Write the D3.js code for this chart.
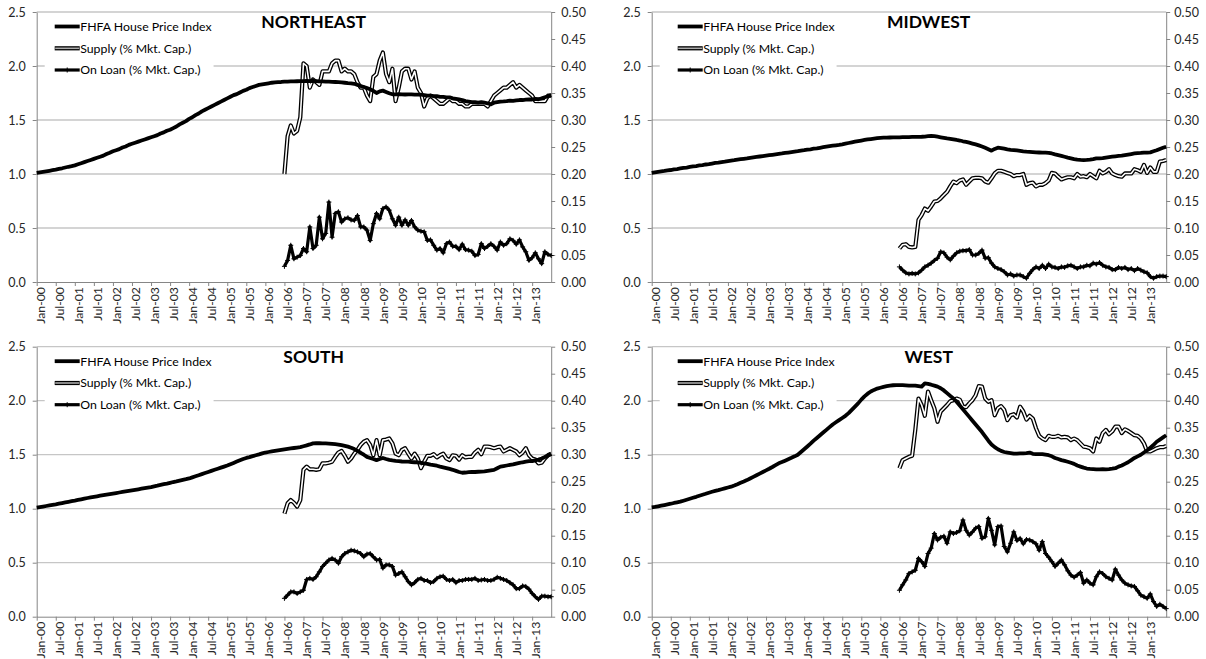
<!DOCTYPE html>
<html>
<head>
<meta charset="utf-8">
<script src="https://cdn.jsdelivr.net/npm/d3@7"></script>
<style>
  body { margin: 0; background: #fff; }
  svg text { font-family: Lato, "Open Sans", sans-serif; }
</style>
</head>
<body>
<svg id="chart" width="1206" height="659"></svg>
<script>
// monthly categories Jan-00 .. Jul-13, labelled every 6 months
const tickLabels = ["Jan-00","Jul-00","Jan-01","Jul-01","Jan-02","Jul-02","Jan-03","Jul-03","Jan-04","Jul-04",
  "Jan-05","Jul-05","Jan-06","Jul-06","Jan-07","Jul-07","Jan-08","Jul-08","Jan-09","Jul-09",
  "Jan-10","Jul-10","Jan-11","Jul-11","Jan-12","Jul-12","Jan-13"];
const monthCount = 163;   // Jan-00 .. Jul-13
const seriesStart = 78;   // supply / on-loan series start at Jul-06

const leftTicks = [0, 0.5, 1.0, 1.5, 2.0, 2.5];
const rightTicks = [0, 0.05, 0.10, 0.15, 0.20, 0.25, 0.30, 0.35, 0.40, 0.45, 0.50];

const legendNames = ["FHFA House Price Index", "Supply (% Mkt. Cap.)", "On Loan (% Mkt. Cap.)"];

// ---- NORTHEAST ----
const neHpi = [
  1.01,1.015,1.02,1.025,1.03,1.035,1.04,1.047,1.053,1.06,1.067,1.073,
  1.08,1.09,1.10,1.11,1.12,1.13,1.14,1.15,1.16,1.17,1.185,1.197,
  1.21,1.22,1.23,1.245,1.255,1.27,1.28,1.29,1.30,1.31,1.32,1.33,
  1.34,1.35,1.36,1.375,1.385,1.40,1.41,1.425,1.44,1.46,1.475,1.49,
  1.51,1.525,1.545,1.56,1.58,1.595,1.61,1.625,1.64,1.655,1.67,1.685,
  1.70,1.715,1.73,1.74,1.755,1.77,1.78,1.795,1.805,1.815,1.825,1.83,
  1.835,1.84,1.845,1.848,1.85,1.852,1.855,1.856,1.857,1.858,1.859,1.86,
  1.86,1.862,1.86,1.862,1.86,1.858,1.858,1.856,1.855,1.853,1.852,1.85,
  1.848,1.845,1.842,1.84,1.835,1.825,1.815,1.805,1.795,1.785,1.77,1.75,
  1.765,1.772,1.76,1.748,1.738,1.738,1.74,1.738,1.736,1.738,1.737,1.735,
  1.735,1.735,1.73,1.725,1.725,1.72,1.72,1.715,1.715,1.71,1.71,1.70,
  1.695,1.69,1.685,1.675,1.67,1.665,1.665,1.66,1.665,1.66,1.655,1.645,
  1.66,1.665,1.67,1.672,1.675,1.68,1.678,1.682,1.685,1.685,1.688,1.69,
  1.69,1.695,1.692,1.70,1.71,1.72,1.73];
const neSupply = [
  0.20,0.27,0.29,0.275,0.28,0.305,0.405,0.40,0.36,0.375,
  0.37,0.365,0.39,0.39,0.39,0.405,0.41,0.41,0.39,0.395,
  0.39,0.39,0.385,0.37,0.36,0.36,0.345,0.335,0.38,0.385,
  0.41,0.425,0.385,0.37,0.395,0.335,0.36,0.39,0.395,0.395,
  0.375,0.39,0.36,0.35,0.325,0.34,0.345,0.34,0.335,0.33,
  0.33,0.335,0.34,0.335,0.335,0.33,0.33,0.325,0.325,0.33,
  0.33,0.33,0.33,0.33,0.325,0.335,0.345,0.35,0.355,0.36,
  0.36,0.365,0.37,0.36,0.365,0.36,0.355,0.35,0.345,0.335,
  0.335,0.335,0.335,0.345,0.345];
const neLoan = [
  0.029,0.040,0.068,0.043,0.046,0.049,0.062,0.056,0.102,0.062,
  0.068,0.120,0.080,0.090,0.148,0.083,0.127,0.130,0.111,0.117,
  0.119,0.115,0.114,0.123,0.102,0.102,0.096,0.077,0.108,0.127,
  0.117,0.136,0.139,0.133,0.117,0.105,0.120,0.105,0.115,0.105,
  0.114,0.102,0.096,0.094,0.093,0.077,0.078,0.068,0.059,0.062,
  0.054,0.071,0.074,0.066,0.066,0.060,0.070,0.060,0.059,0.057,
  0.049,0.051,0.071,0.062,0.066,0.071,0.066,0.059,0.074,0.068,
  0.071,0.080,0.077,0.070,0.078,0.065,0.056,0.040,0.045,0.054,
  0.043,0.034,0.056,0.051,0.049];

// ---- MIDWEST ----
const mwHpi = [
  1.01,1.015,1.02,1.024,1.028,1.033,1.037,1.042,1.046,1.051,1.056,1.06,
  1.065,1.07,1.074,1.079,1.083,1.088,1.092,1.097,1.102,1.106,1.111,1.115,
  1.12,1.124,1.128,1.133,1.137,1.141,1.145,1.15,1.154,1.158,1.162,1.166,
  1.17,1.174,1.178,1.182,1.186,1.19,1.195,1.199,1.203,1.207,1.211,1.216,
  1.22,1.225,1.229,1.234,1.238,1.243,1.248,1.253,1.258,1.262,1.266,1.27,
  1.275,1.281,1.287,1.293,1.299,1.305,1.31,1.315,1.32,1.324,1.328,1.332,
  1.335,1.336,1.337,1.338,1.339,1.34,1.34,1.341,1.341,1.342,1.343,1.343,
  1.344,1.345,1.347,1.35,1.352,1.35,1.345,1.34,1.335,1.33,1.326,1.321,
  1.315,1.31,1.303,1.297,1.29,1.282,1.274,1.265,1.255,1.243,1.23,1.216,
  1.232,1.244,1.24,1.234,1.228,1.224,1.222,1.218,1.214,1.21,1.207,1.205,
  1.203,1.2,1.199,1.198,1.197,1.196,1.19,1.182,1.175,1.168,1.16,1.152,
  1.145,1.138,1.133,1.13,1.128,1.13,1.133,1.138,1.145,1.145,1.147,1.152,
  1.156,1.16,1.164,1.167,1.17,1.175,1.18,1.185,1.19,1.193,1.195,1.198,
  1.198,1.2,1.21,1.22,1.232,1.243,1.253];
const mwSupply = [
  0.062,0.069,0.070,0.065,0.064,0.065,0.115,0.124,0.136,0.132,
  0.140,0.149,0.150,0.155,0.161,0.167,0.177,0.186,0.183,0.188,
  0.190,0.180,0.186,0.192,0.193,0.193,0.192,0.186,0.184,0.192,
  0.201,0.206,0.206,0.204,0.202,0.200,0.196,0.198,0.198,0.200,
  0.180,0.183,0.184,0.177,0.180,0.180,0.183,0.188,0.202,0.201,
  0.195,0.190,0.192,0.194,0.194,0.192,0.200,0.195,0.196,0.194,
  0.200,0.196,0.192,0.206,0.201,0.204,0.209,0.201,0.198,0.196,
  0.195,0.201,0.201,0.201,0.209,0.207,0.204,0.217,0.202,0.212,
  0.204,0.204,0.223,0.224,0.226];
const mwLoan = [
  0.028,0.022,0.017,0.015,0.016,0.015,0.017,0.022,0.028,0.031,
  0.035,0.040,0.044,0.056,0.054,0.046,0.041,0.048,0.054,0.057,
  0.058,0.058,0.060,0.050,0.050,0.053,0.059,0.044,0.045,0.035,
  0.028,0.025,0.023,0.019,0.013,0.015,0.011,0.013,0.013,0.010,
  0.007,0.016,0.023,0.028,0.025,0.031,0.025,0.033,0.028,0.027,
  0.025,0.028,0.027,0.030,0.031,0.028,0.025,0.028,0.028,0.031,
  0.030,0.035,0.033,0.036,0.031,0.028,0.027,0.023,0.023,0.027,
  0.025,0.027,0.023,0.025,0.021,0.025,0.022,0.019,0.017,0.010,
  0.007,0.010,0.011,0.011,0.010];

// ---- SOUTH ----
const soHpi = [
  1.01,1.015,1.02,1.025,1.03,1.035,1.04,1.046,1.052,1.058,1.064,1.07,
  1.075,1.081,1.087,1.093,1.099,1.105,1.11,1.115,1.12,1.125,1.13,1.135,
  1.14,1.145,1.15,1.155,1.16,1.165,1.17,1.175,1.18,1.185,1.19,1.195,
  1.20,1.207,1.213,1.22,1.227,1.233,1.24,1.247,1.253,1.26,1.267,1.273,
  1.28,1.29,1.30,1.31,1.32,1.33,1.34,1.35,1.36,1.37,1.38,1.39,
  1.40,1.412,1.424,1.436,1.448,1.46,1.47,1.478,1.487,1.495,1.503,1.512,
  1.52,1.525,1.53,1.535,1.54,1.545,1.55,1.554,1.558,1.562,1.566,1.57,
  1.578,1.586,1.595,1.605,1.607,1.606,1.605,1.604,1.603,1.60,1.597,1.594,
  1.588,1.582,1.575,1.565,1.552,1.535,1.518,1.50,1.48,1.47,1.46,1.45,
  1.46,1.47,1.46,1.452,1.447,1.443,1.44,1.437,1.435,1.435,1.432,1.43,
  1.428,1.425,1.42,1.415,1.408,1.404,1.398,1.39,1.383,1.376,1.368,1.36,
  1.35,1.34,1.333,1.335,1.338,1.34,1.34,1.342,1.343,1.345,1.35,1.355,
  1.36,1.375,1.39,1.395,1.40,1.405,1.41,1.418,1.424,1.43,1.435,1.44,
  1.44,1.448,1.455,1.465,1.478,1.492,1.506];
const soSupply = [
  0.191,0.210,0.216,0.211,0.204,0.216,0.272,0.278,0.273,0.273,
  0.272,0.273,0.284,0.284,0.285,0.287,0.296,0.304,0.307,0.298,
  0.287,0.293,0.302,0.309,0.318,0.324,0.327,0.318,0.299,0.327,
  0.299,0.327,0.328,0.330,0.321,0.302,0.299,0.309,0.312,0.302,
  0.293,0.302,0.293,0.275,0.287,0.298,0.298,0.301,0.295,0.299,
  0.302,0.293,0.290,0.299,0.298,0.291,0.299,0.295,0.296,0.296,
  0.304,0.309,0.301,0.315,0.315,0.314,0.312,0.314,0.315,0.306,
  0.309,0.312,0.309,0.306,0.299,0.304,0.312,0.299,0.293,0.291,
  0.284,0.285,0.293,0.299,0.302];
const soLoan = [
  0.034,0.040,0.046,0.046,0.043,0.046,0.049,0.069,0.071,0.069,
  0.074,0.083,0.093,0.099,0.105,0.108,0.105,0.099,0.111,0.117,
  0.120,0.123,0.122,0.120,0.117,0.111,0.116,0.117,0.111,0.105,
  0.106,0.090,0.096,0.096,0.093,0.077,0.080,0.083,0.074,0.065,
  0.059,0.063,0.069,0.071,0.067,0.067,0.063,0.065,0.071,0.074,
  0.075,0.069,0.067,0.069,0.063,0.067,0.067,0.069,0.069,0.069,
  0.071,0.067,0.068,0.069,0.067,0.067,0.069,0.073,0.071,0.069,
  0.067,0.063,0.059,0.052,0.052,0.057,0.056,0.051,0.043,0.037,
  0.032,0.038,0.038,0.037,0.037];

// ---- WEST ----
const weHpi = [
  1.012,1.016,1.022,1.028,1.034,1.04,1.046,1.053,1.059,1.065,1.074,1.083,
  1.092,1.101,1.11,1.12,1.129,1.138,1.148,1.157,1.165,1.172,1.18,1.188,
  1.196,1.204,1.215,1.227,1.24,1.252,1.265,1.28,1.295,1.31,1.325,1.34,
  1.355,1.37,1.386,1.403,1.42,1.432,1.445,1.458,1.471,1.485,1.50,1.525,
  1.55,1.576,1.602,1.63,1.655,1.68,1.705,1.73,1.755,1.78,1.80,1.82,
  1.84,1.86,1.885,1.915,1.945,1.975,2.01,2.04,2.065,2.085,2.10,2.112,
  2.12,2.128,2.135,2.14,2.143,2.145,2.145,2.144,2.142,2.14,2.14,2.14,
  2.135,2.13,2.16,2.155,2.148,2.14,2.13,2.115,2.095,2.07,2.045,2.02,
  1.99,1.955,1.92,1.885,1.85,1.815,1.78,1.745,1.71,1.67,1.63,1.595,
  1.57,1.55,1.535,1.525,1.52,1.515,1.51,1.51,1.512,1.513,1.515,1.52,
  1.508,1.505,1.505,1.505,1.50,1.495,1.485,1.47,1.46,1.45,1.443,1.435,
  1.425,1.415,1.40,1.39,1.38,1.372,1.368,1.366,1.364,1.365,1.366,1.364,
  1.366,1.37,1.375,1.39,1.40,1.415,1.43,1.45,1.47,1.485,1.50,1.52,
  1.54,1.565,1.59,1.62,1.64,1.66,1.68];
const weSupply = [
  0.275,0.290,0.293,0.296,0.298,0.346,0.404,0.392,0.372,0.417,
  0.401,0.386,0.361,0.380,0.386,0.392,0.399,0.401,0.404,0.402,
  0.389,0.388,0.395,0.401,0.410,0.427,0.426,0.404,0.398,0.401,
  0.373,0.386,0.390,0.383,0.364,0.373,0.375,0.369,0.389,0.380,
  0.365,0.372,0.367,0.349,0.335,0.330,0.327,0.335,0.333,0.333,
  0.335,0.332,0.333,0.332,0.327,0.330,0.327,0.321,0.315,0.314,
  0.312,0.306,0.330,0.324,0.340,0.346,0.338,0.343,0.352,0.352,
  0.340,0.347,0.344,0.340,0.336,0.335,0.330,0.321,0.306,0.306,
  0.309,0.312,0.314,0.314,0.316];
const weLoan = [
  0.049,0.059,0.068,0.080,0.083,0.086,0.108,0.102,0.093,0.117,
  0.127,0.154,0.142,0.147,0.149,0.136,0.157,0.154,0.156,0.159,
  0.179,0.160,0.151,0.157,0.164,0.167,0.145,0.148,0.182,0.160,
  0.133,0.167,0.168,0.130,0.120,0.136,0.157,0.141,0.145,0.135,
  0.143,0.142,0.139,0.135,0.123,0.139,0.117,0.110,0.102,0.093,
  0.099,0.105,0.096,0.085,0.077,0.073,0.077,0.082,0.062,0.068,
  0.062,0.059,0.074,0.083,0.080,0.074,0.071,0.068,0.088,0.077,
  0.068,0.062,0.059,0.057,0.056,0.048,0.040,0.037,0.034,0.042,
  0.028,0.019,0.023,0.019,0.015];

// panel layout
const plotW = 514.5, plotH = 270;
const panels = [
  { title: "NORTHEAST", hpi: neHpi, supply: neSupply, loan: neLoan, left: 36.7,  top: 12,    legendX: 18, rightPad: 6 },
  { title: "MIDWEST",   hpi: mwHpi, supply: mwSupply, loan: mwLoan, left: 651.7, top: 12,    legendX: 26, rightPad: 4 },
  { title: "SOUTH",     hpi: soHpi, supply: soSupply, loan: soLoan, left: 36.7,  top: 346.7, legendX: 18, rightPad: 6 },
  { title: "WEST",      hpi: weHpi, supply: weSupply, loan: weLoan, left: 651.7, top: 346.7, legendX: 26, rightPad: 4 }
];

const svg = d3.select("#chart");
const axisColor = "#868686";
const gridColor = "#c6c6c6";

function styleAxis(g, size) {
  g.select(".domain").attr("stroke", axisColor).attr("stroke-width", 1);
  g.selectAll(".tick line").attr("stroke", axisColor);
  g.selectAll(".tick text").attr("fill", "#262626").style("font-size", size);
}

function drawPanel(p) {
  const g = svg.append("g");
  const bottom = p.top + plotH, right = p.left + plotW;

  const x = d3.scaleLinear().domain([0, monthCount - 1]).range([p.left, right]);
  const yL = d3.scaleLinear().domain([0, 2.5]).range([bottom, p.top]);
  const yR = d3.scaleLinear().domain([0, 0.5]).range([bottom, p.top]);

  // horizontal gridlines
  g.append("g").selectAll("line")
    .data(leftTicks.filter(d => d > 0))
    .join("line")
    .attr("x1", p.left).attr("x2", right)
    .attr("y1", d => yL(d)).attr("y2", d => yL(d))
    .attr("stroke", gridColor).attr("stroke-width", 1.3);

  // axes
  const ax = g.append("g").attr("transform", `translate(0,${bottom})`)
    .call(d3.axisBottom(x)
      .tickValues(tickLabels.map((_, k) => k * 6))
      .tickFormat(d => tickLabels[d / 6])
      .tickSize(4).tickSizeOuter(0));
  styleAxis(ax, "12.3px");
  ax.selectAll(".tick text")
    .attr("transform", "rotate(-90)")
    .attr("x", -5).attr("y", 0).attr("dy", "0.6em")
    .style("text-anchor", "end");

  const ay = g.append("g").attr("transform", `translate(${p.left},0)`)
    .call(d3.axisLeft(yL).tickValues(leftTicks).tickFormat(d3.format(".1f")).tickSize(4).tickSizeOuter(0).tickPadding(7));
  styleAxis(ay, "12.5px");

  const ar = g.append("g").attr("transform", `translate(${right},0)`)
    .call(d3.axisRight(yR).tickValues(rightTicks).tickFormat(d3.format(".2f")).tickSize(4).tickSizeOuter(0).tickPadding(p.rightPad));
  styleAxis(ar, "12.5px");

  // series
  const hpiLine = d3.line().x((d, k) => x(k)).y(d => yL(d));
  const rLine = d3.line().x((d, k) => x(k + seriesStart)).y(d => yR(d));

  g.append("path").datum(p.supply).attr("d", rLine)
    .attr("fill", "none").attr("stroke", "#000").attr("stroke-width", 4.2).attr("stroke-linejoin", "round");
  g.append("path").datum(p.supply).attr("d", rLine)
    .attr("fill", "none").attr("stroke", "#fff").attr("stroke-width", 1.6).attr("stroke-linejoin", "round");

  g.append("path").datum(p.hpi).attr("d", hpiLine)
    .attr("fill", "none").attr("stroke", "#000").attr("stroke-width", 3.8).attr("stroke-linejoin", "round");

  g.append("path").datum(p.loan).attr("d", rLine)
    .attr("fill", "none").attr("stroke", "#000").attr("stroke-width", 3.2).attr("stroke-linejoin", "round");
  g.append("g").selectAll("path")
    .data(p.loan)
    .join("path")
    .attr("transform", (d, k) => `translate(${x(k + seriesStart)},${yR(d)})`)
    .attr("d", "M-2.5,0H2.5M0,-2.5V2.5")
    .attr("stroke", "#000").attr("stroke-width", 1);

  // title
  g.append("text")
    .attr("x", p.left + 277).attr("y", p.top + 16)
    .attr("text-anchor", "middle")
    .style("font-size", "17.5px").style("font-weight", "bold")
    .attr("fill", "#000")
    .text(p.title);

  // legend (white box behind, series drawn underneath)
  const lg = g.append("g");
  const bg = lg.append("rect").attr("fill", "#fff");
  const sx = p.left + p.legendX, tx = sx + 25.5;
  const rowY = [p.top + 14.5, p.top + 36.3, p.top + 58];
  const texts = lg.selectAll("text").data(legendNames).join("text")
    .attr("x", tx).attr("y", (d, k) => rowY[k]).attr("dy", "0.35em")
    .style("font-size", "12.3px").attr("fill", "#000")
    .text(d => d);
  const maxW = d3.max(texts.nodes(), n => n.getComputedTextLength());
  bg.attr("x", p.left + 8).attr("y", p.top + 2)
    .attr("width", tx + maxW + 2 - (p.left + 8)).attr("height", 66);

  lg.append("line").attr("x1", sx).attr("x2", sx + 25).attr("y1", rowY[0]).attr("y2", rowY[0])
    .attr("stroke", "#000").attr("stroke-width", 3.8);
  lg.append("line").attr("x1", sx).attr("x2", sx + 25).attr("y1", rowY[1]).attr("y2", rowY[1])
    .attr("stroke", "#000").attr("stroke-width", 4.2);
  lg.append("line").attr("x1", sx + 0.5).attr("x2", sx + 24.5).attr("y1", rowY[1]).attr("y2", rowY[1])
    .attr("stroke", "#aaa").attr("stroke-width", 1.6);
  lg.append("line").attr("x1", sx).attr("x2", sx + 25).attr("y1", rowY[2]).attr("y2", rowY[2])
    .attr("stroke", "#000").attr("stroke-width", 3.2);
  lg.append("path").attr("transform", `translate(${sx + 12.5},${rowY[2]})`)
    .attr("d", "M-2.5,0H2.5M0,-2.5V2.5").attr("stroke", "#000").attr("stroke-width", 1);
}

panels.forEach(drawPanel);
</script>
</body>
</html>
